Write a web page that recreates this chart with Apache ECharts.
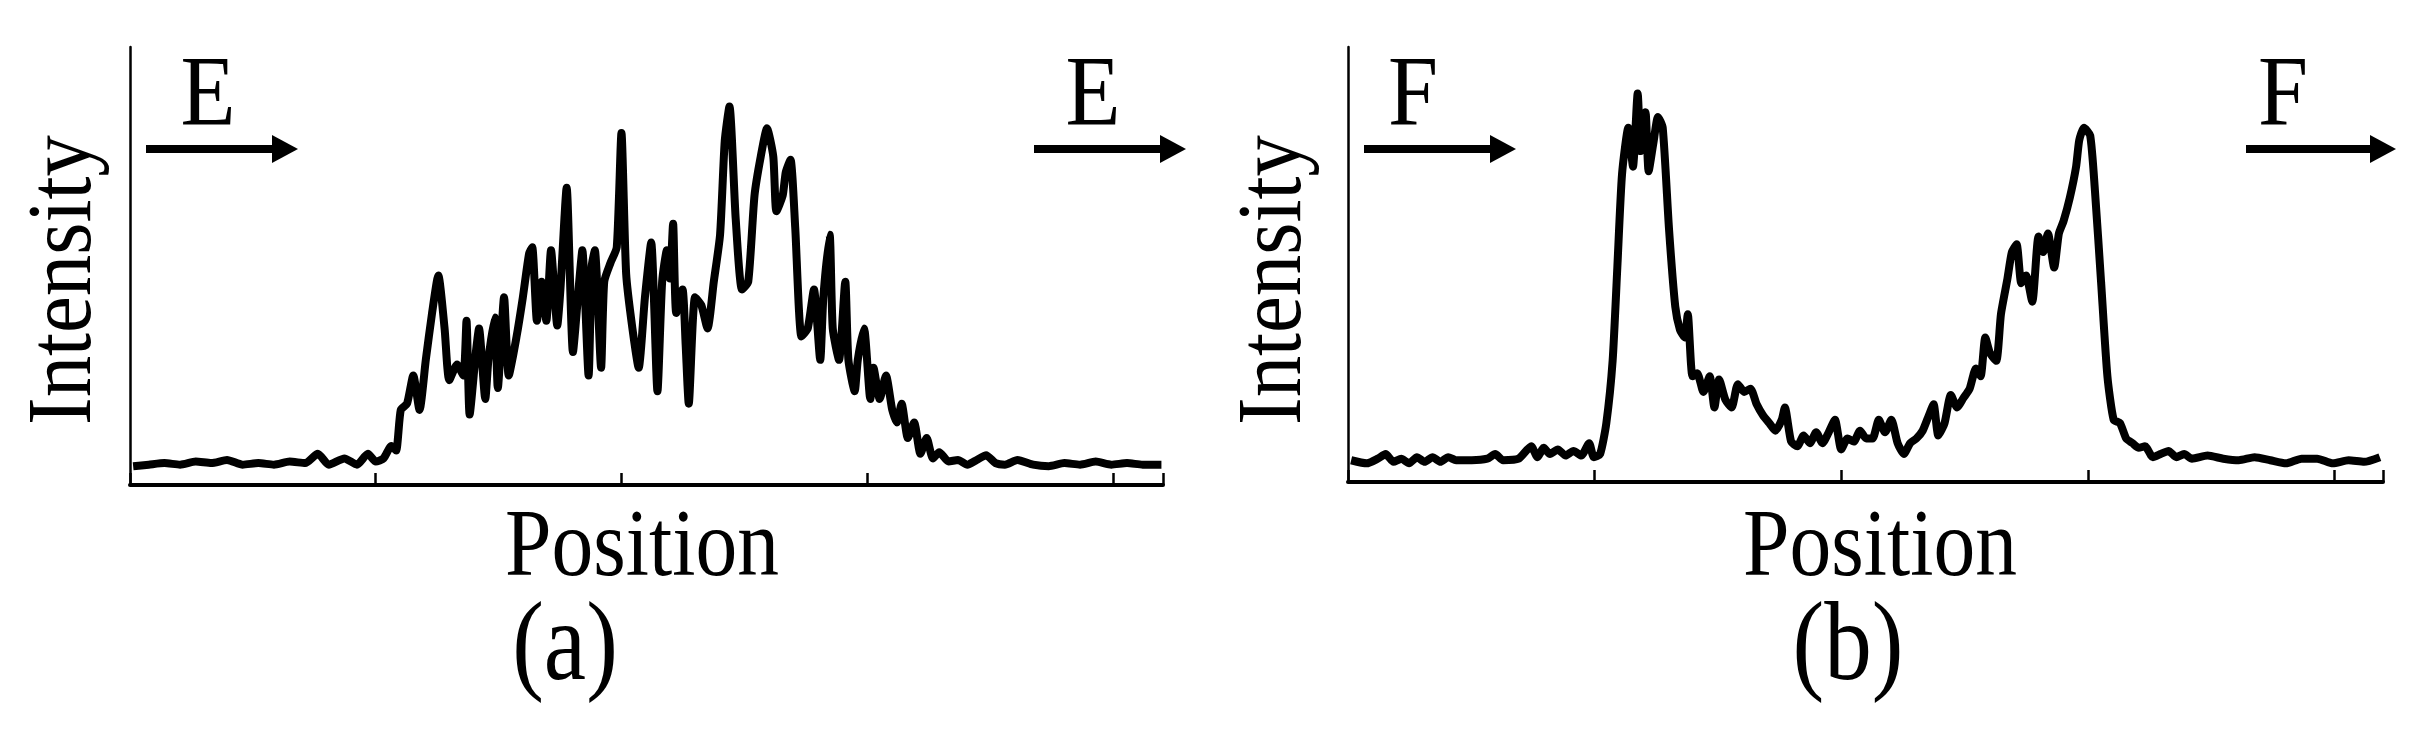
<!DOCTYPE html>
<html><head><meta charset="utf-8">
<script src="https://cdn.jsdelivr.net/npm/echarts@6/dist/echarts.min.js"></script>
<style>html,body{margin:0;padding:0;background:#fff}#c{width:2430px;height:739px}</style>
</head><body><div id="c"></div>
<script>
// Panel (a): position (source units) and intensity
const posA = [85,95,105,115,125,135,145,155,165,175,185,195,203,210,220,228,235,240,245,250,253,256,260,264,268,272,276,280,284,287,292,296,298,300,304,306,310,312,316,318,322,325,330,334,338,340,343,346,349,352,356,358,362,366,370,372,376,378,380,384,386,390,394,397,400,404,408,412,416,420,423,426,428,430,432,436,438,440,444,448,452,456,460,463,466,470,474,478,482,486,490,494,496,500,502,505,508,512,516,520,524,526,530,532,536,540,542,546,548,552,556,558,562,566,570,573,576,580,584,588,592,596,600,606,612,618,624,630,636,642,650,660,670,680,690,700,710,720,730,742];
const intA = [12,13,14,13,15,14,16,13,14,13,15,14,20,13,17,13,20,15,17,25,22,48,52,70,48,80,110,134,100,67,77,70,105,45,85,100,55,80,107,62,120,70,95,120,148,152,105,130,105,150,102,125,190,85,130,150,70,140,150,75,130,142,152,225,135,100,75,120,155,60,130,150,132,167,110,125,90,52,120,115,100,130,160,220,242,170,125,130,185,210,228,210,175,185,200,208,165,95,100,125,80,120,160,100,80,130,80,60,80,100,55,75,55,70,48,40,52,30,40,20,30,17,21,15,16,13,16,19,14,13,16,13,12,14,13,15,13,14,13,13];
// Panel (b)
const posB = [863,873,880,885,890,895,900,905,910,915,920,925,930,940,950,955,960,970,978,982,986,990,995,1000,1005,1010,1015,1018,1022,1026,1030,1033,1036,1040,1043,1046,1048,1051,1053,1056,1059,1062,1066,1070,1073,1076,1078,1081,1084,1088,1092,1095,1098,1102,1106,1110,1114,1118,1122,1126,1130,1134,1138,1140,1144,1148,1152,1156,1160,1164,1168,1172,1176,1180,1184,1188,1192,1196,1200,1204,1208,1212,1216,1220,1224,1228,1232,1235,1238,1242,1246,1250,1254,1258,1262,1265,1268,1271,1275,1278,1282,1285,1288,1291,1294,1298,1302,1305,1308,1312,1315,1318,1322,1326,1328,1331,1335,1338,1342,1346,1350,1354,1358,1362,1366,1370,1375,1380,1385,1390,1395,1400,1410,1420,1430,1440,1450,1460,1470,1480,1490,1500,1510,1520];
const intB = [14,12,15,18,13,15,12,16,13,16,13,16,14,14,15,18,14,15,23,16,22,18,21,17,20,17,25,16,18,38,78,138,198,228,203,250,213,238,200,218,235,228,163,113,98,93,108,68,70,58,68,48,66,53,48,63,58,60,50,43,38,33,40,48,26,23,30,25,32,25,32,40,21,28,26,33,28,28,40,32,40,25,18,25,28,33,43,50,30,38,56,48,54,60,73,68,93,83,78,108,130,148,153,128,133,116,158,148,160,138,160,168,183,203,220,228,223,188,128,68,40,38,28,25,22,23,16,18,20,16,18,15,17,15,14,16,14,12,15,15,12,14,13,16];
const ticksA = {min:83, max:743, interval:157};
const ticksB = {min:861, max:1522, interval:157.5};

const serif = 'Liberation Serif';
function pair(a,b){return a.map((v,i)=>[v,b[i]]);}
function xAx(idx,t){return {type:'value',gridIndex:idx,min:t.min,max:t.max,interval:t.interval,
  axisLine:{lineStyle:{color:'#000',width:4}},axisTick:{inside:true,length:12,lineStyle:{color:'#000',width:2.5}},
  axisLabel:{show:false},splitLine:{show:false}};}
function yAx(idx){return {type:'value',gridIndex:idx,min:0,max:280,axisLine:{show:true,lineStyle:{color:'#000',width:2.5}},
  axisTick:{show:false},axisLabel:{show:false},splitLine:{show:false}};}
function txt(x,y,s,size,rot,sx){return {type:'text',x:x,y:y,rotation:rot||0,scaleX:sx||1,style:{text:s,fontFamily:serif,fontSize:size,fill:'#000',align:'center',verticalAlign:'middle'}};}
function arrow(x1,x2,y){return [
  {type:'line',shape:{x1:x1,y1:y,x2:x2-20,y2:y},style:{stroke:'#000',lineWidth:8}},
  {type:'polygon',shape:{points:[[x2-26,y-14],[x2,y],[x2-26,y+14]]},style:{fill:'#000'}}];}
const chart = echarts.init(document.getElementById('c'));
chart.setOption({
  animation:false,
  grid:[{left:130,width:1033,top:47,height:438},{left:1348,width:1035,top:47,height:435}],
  xAxis:[xAx(0,ticksA),xAx(1,ticksB)],
  yAxis:[yAx(0),yAx(1)],
  series:[
    {type:'line',xAxisIndex:0,yAxisIndex:0,data:pair(posA,intA),showSymbol:false,lineStyle:{color:'#000',width:8},smooth:0.2},
    {type:'line',xAxisIndex:1,yAxisIndex:1,data:pair(posB,intB),showSymbol:false,lineStyle:{color:'#000',width:8},smooth:0.2}
  ],
  graphic:[
    txt(66,280,'Intensity',92,Math.PI/2,0.9), txt(1276,280,'Intensity',92,Math.PI/2,0.9),
    txt(642,550,'Position',96,0,0.87), txt(1880,550,'Position',96,0,0.87),
    txt(565,650,'(a)',112,0,0.85), txt(1848,650,'(b)',112,0,0.85),
    txt(208,98,'E',100,0,0.9), txt(1093,98,'E',100,0,0.9), txt(1413,98,'F',100,0,0.9), txt(2283,98,'F',100,0,0.9),
    ...arrow(146,298,149), ...arrow(1034,1186,149), ...arrow(1364,1516,149), ...arrow(2246,2396,149)
  ]
});
</script></body></html>
